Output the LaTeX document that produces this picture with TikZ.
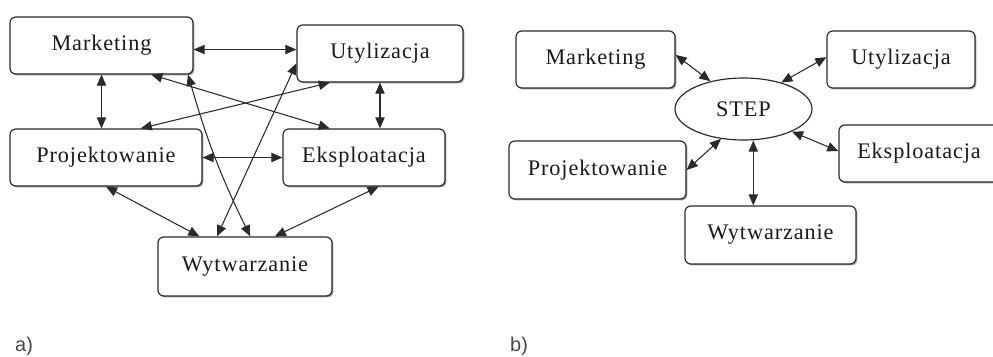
\documentclass[tikz,border=0pt]{standalone}
\usepackage{fontspec}
\setmainfont{Liberation Serif}
\newfontfamily\boxfont[LetterSpace=4]{Liberation Serif}
\newfontfamily\labelfont{Liberation Sans}
\usetikzlibrary{arrows.meta}
\usetikzlibrary{calc}
\usetikzlibrary{shapes.geometric}
\usetikzlibrary{shadows}
\definecolor{edge}{HTML}{2A2A2A}
\definecolor{ink}{HTML}{1A1A1A}
\tikzset{blok/.style={rectangle, rounded corners=5pt, draw=edge, line width=1pt,
   fill=white, text=ink, inner sep=0pt, minimum height=1.71cm,
   font=\boxfont\fontsize{19}{22}\selectfont,
   drop shadow={shadow xshift=1.2pt, shadow yshift=-1.2pt, fill=gray!75, opacity=1}}}
\tikzset{stepnode/.style={ellipse, draw=edge, line width=1pt, fill=white, text=ink,
   minimum width=4.11cm, minimum height=1.86cm, inner sep=0pt,
   font=\boxfont\fontsize{19}{22}\selectfont}}
\tikzset{link/.style={draw=edge, line width=0.9pt,
   {Triangle[length=9.5pt,width=8pt]}-{Triangle[length=9.5pt,width=8pt]}}}
\tikzset{podpis/.style={font=\labelfont\fontsize{17}{19}\selectfont, text=gray!55!black,
   anchor=base west, inner sep=0pt}}

\begin{document}
\begin{tikzpicture}[x=0.03cm, y=-0.03cm]

    \useasboundingbox (0,0) rectangle (993,356);

    % a)
    \node[blok, minimum width=5.49cm] (mkA) at (101.5,45.5) {Marketing};
    \node[blok, minimum width=4.98cm] (utA) at (380,53.5) {Utylizacja};
    \node[blok, minimum width=5.76cm] (prA) at (106,157.5) {Projektowanie};
    \node[blok, minimum width=4.86cm] (ekA) at (364,157.5) {Eksploatacja};
    \node[blok, minimum width=5.22cm, minimum height=1.77cm] (wyA) at (245,266.5) {Wytwarzanie};

    \coordinate (h1) at ($(mkA.east)!0.5!(utA.west)$);
    \draw[link] (mkA.east |- h1) -- (utA.west |- h1);
    \draw[link] (mkA.south) -- (mkA.south |- prA.north);
    \draw[link] (utA.south) -- (utA.south |- ekA.north);
    \draw[link] (prA.east) -- (prA.east -| ekA.west);
    \draw[link] ($(mkA.south west)!0.77!(mkA.south east)$) -- ($(ekA.north west)!0.29!(ekA.north east)$);
    \draw[link] ($(utA.south west)!0.2!(utA.south east)$) -- ($(prA.north west)!0.68!(prA.north east)$);
    \draw[link] ($(mkA.south west)!0.97!(mkA.south east)$) to[bend right=5] ($(wyA.north west)!0.53!(wyA.north east)$);
    \draw[link] ($(utA.north west)!0.67!(utA.south west)$) -- ($(wyA.north west)!0.34!(wyA.north east)$);
    \draw[link] (prA.south) -- ($(wyA.north west)!0.24!(wyA.north east)$);
    \draw[link] ($(ekA.south west)!0.59!(ekA.south east)$) -- ($(wyA.north west)!0.67!(wyA.north east)$);

    % b)
    \node[blok, minimum width=4.77cm] (mkB) at (595.5,59.5) {Marketing};
    \node[blok, minimum width=4.44cm] (utB) at (901,59.5) {Utylizacja};
    \node[stepnode] (stp) at (743.5,109) {STEP};
    \node[blok, minimum width=4.8cm] (ekB) at (919,153.5) {Eksploatacja};
    \node[blok, minimum width=5.31cm, minimum height=1.74cm] (prB) at (597.5,170) {Projektowanie};
    \node[blok, minimum width=5.13cm, minimum height=1.74cm] (wyB) at (770.5,235) {Wytwarzanie};

    \draw[link] ($(mkB.north east)!0.42!(mkB.south east)$) -- (stp.140);
    \draw[link] ($(utB.north west)!0.46!(utB.south west)$) -- (stp.35);
    \draw[link] (prB.east) -- (stp.233);
    \draw[link] ($(ekB.north west)!0.46!(ekB.south west)$) -- (stp.-25);
    \coordinate (w1) at ($(wyB.north west)!0.4!(wyB.north east)$);
    \draw[link] (w1) -- (w1 |- stp.south);

    \node[podpis] (la) at (15,351) {a)};
    \node[podpis] (lb) at (510,351) {b)};

\end{tikzpicture}
\end{document}
